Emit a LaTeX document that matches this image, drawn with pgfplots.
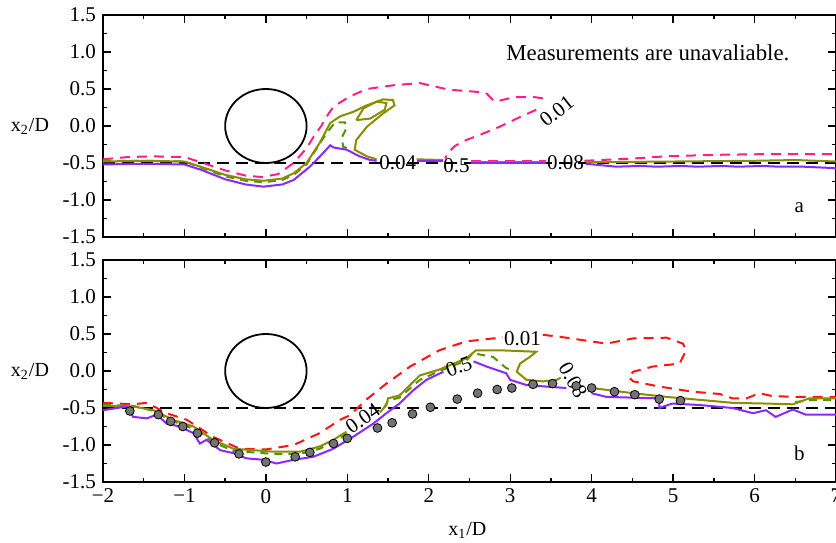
\documentclass[border=0pt]{standalone}
\usepackage{fontspec}
\setmainfont{Liberation Serif}
\usepackage{pgfplots}
\pgfplotsset{compat=1.18}
\newcommand\fs{\fontsize{10.5}{12.6}\selectfont}
\newcommand\fb{\fontsize{11.4}{13.6}\selectfont}
\definecolor{pinkc}{RGB}{255,30,140}
\definecolor{redc}{RGB}{255,20,20}
\definecolor{olivec}{RGB}{140,140,0}
\definecolor{greenc}{RGB}{80,150,0}
\definecolor{purplec}{RGB}{140,40,255}
\definecolor{markgray}{RGB}{115,115,115}
\tikzset{lab/.style={font=\fs, inner sep=0pt}}
\pgfplotsset{myax/.style={scale only axis, width=366.5pt, height=111pt,
  xmin=-2, xmax=7, ymin=-1.5, ymax=1.5,
  axis line style={line width=1pt},
  tick align=inside, major tick length=4pt, minor tick length=2pt,
  every tick/.style={black, line width=0.7pt},
  xtick={-2,-1,0,1,2,3,4,5,6,7}, minor x tick num=1,
  ytick={-1.5,-1,-0.5,0,0.5,1,1.5},
  yticklabels={-1.5,-1.0,-0.5,0.0,0.5,1.0,1.5}, minor y tick num=1,
  tick label style={font=\fs}, label style={font=\fs},
  every axis y label/.style={at={(axis description cs:-0.0996,0.5)},anchor=center},
  ylabel={x\textsubscript{2}/D}},
  pk/.style={pinkc, line width=1pt, dash pattern=on 5pt off 3.5pt},
  rd/.style={redc, line width=1pt, dash pattern=on 5pt off 3.5pt},
  ol/.style={olivec, line width=1pt},
  gd/.style={greenc, line width=1pt, dash pattern=on 4pt off 3pt},
  pu/.style={purplec, line width=1pt},
  bd/.style={black, line width=1pt, dash pattern=on 6pt off 3.5pt}
}
\begin{document}
\begin{tikzpicture}
\begin{axis}[myax, name=A, at={(0,122.5pt)}, anchor=south west, xticklabels={}]
% black dashed reference line
\addplot[bd] coordinates {(-2,-0.5) (7,-0.5)};
% 0.01 contour
\addplot[pk] coordinates {(-2,-0.45) (-1.7,-0.42) (-1.4,-0.41) (-1.0,-0.42) (-0.8,-0.49) (-0.5,-0.6) (-0.25,-0.67) (-0.05,-0.69) (0.15,-0.65) (0.34,-0.5) (0.5,-0.3) (0.6,-0.12) (0.68,0.0) (0.76,0.15) (0.83,0.26) (1.03,0.40) (1.24,0.5) (1.56,0.55) (1.89,0.58) (2.05,0.54) (2.25,0.49) (2.5,0.47) (2.7,0.45) (2.78,0.36) (2.82,0.33) (3.05,0.39) (3.3,0.39) (3.48,0.36)};
\addplot[pk] coordinates {(3.32,0.22) (3.1,0.11) (2.87,-0.01) (2.65,-0.11) (2.46,-0.19) (2.32,-0.27) (2.24,-0.36) (2.2,-0.44)};
\addplot[pk] coordinates {(2.52,-0.47) (3.0,-0.47) (3.44,-0.47)};
\addplot[pk] coordinates {(3.91,-0.47) (4.5,-0.44) (4.91,-0.41) (5.5,-0.39) (6.14,-0.38) (7,-0.38)};
% 0.04 contour
\addplot[gd] coordinates {(-2,-0.47) (-1.5,-0.47) (-1.0,-0.48) (-0.8,-0.56) (-0.5,-0.68) (-0.25,-0.74) (-0.03,-0.76) (0.2,-0.73) (0.34,-0.66) (0.5,-0.52) (0.66,-0.24) (0.75,-0.09) (0.85,0.05) (0.97,0.05) (0.99,-0.03) (0.93,-0.16) (0.95,-0.28) (1.0,-0.30)};
% 0.5 contour
\addplot[ol] coordinates {(-2,-0.48) (-1.5,-0.47) (-1.0,-0.48) (-0.8,-0.55) (-0.5,-0.66) (-0.25,-0.72) (-0.03,-0.74) (0.2,-0.71) (0.34,-0.64) (0.5,-0.5) (0.6,-0.33) (0.66,-0.23) (0.79,0.04) (0.91,0.13) (1.07,0.19) (1.24,0.28) (1.44,0.36) (1.56,0.35) (1.58,0.28) (1.44,0.17) (1.24,-0.01) (1.11,-0.19) (1.09,-0.32) (1.24,-0.41) (1.36,-0.45)};
\addplot[ol] coordinates {(1.11,0.08) (1.2,0.24) (1.36,0.33) (1.48,0.31) (1.46,0.22) (1.28,0.1) (1.11,0.08)};
\addplot[ol] coordinates {(1.85,-0.45) (2.18,-0.46)};
\addplot[ol] coordinates {(2.52,-0.49) (3.44,-0.49)};
\addplot[ol] coordinates {(3.93,-0.49) (5,-0.48) (6,-0.47) (6.5,-0.46) (7,-0.48)};
% 0.08 contour
\addplot[pu] coordinates {(-2,-0.52) (-1.5,-0.51) (-1.0,-0.52) (-0.8,-0.59) (-0.5,-0.72) (-0.25,-0.79) (-0.03,-0.82) (0.2,-0.79) (0.34,-0.73) (0.54,-0.55) (0.7,-0.37) (0.79,-0.26) (0.83,-0.29) (0.99,-0.32) (1.15,-0.41) (1.28,-0.46) (1.36,-0.47)};
\addplot[pu] coordinates {(1.85,-0.47) (2.18,-0.47)};
\addplot[pu] coordinates {(2.52,-0.5) (3.44,-0.5)};
\addplot[pu] coordinates {(3.93,-0.51) (4.3,-0.55) (4.6,-0.54) (4.8,-0.55) (5.1,-0.54) (5.3,-0.55) (5.6,-0.54) (5.8,-0.55) (6.1,-0.54) (6.3,-0.55) (6.6,-0.55) (7,-0.57)};
% cylinder
\draw[line width=0.9pt] (axis cs:0,0) ellipse [x radius=0.5, y radius=0.5];
% labels
\node[lab] at (axis cs:1.62,-0.5) {0.04};
\node[lab] at (axis cs:2.34,-0.53) {0.5};
\node[lab] at (axis cs:3.68,-0.5) {0.08};
\node[lab, rotate=38] at (axis cs:3.57,0.2) {0.01};
\node[lab, font=\fb] at (axis cs:4.69,0.99) {Measurements are unavaliable.};
\node[lab] at (axis cs:6.55,-1.11) {a};
\end{axis}

\begin{axis}[myax, name=B, at={(0,0)}, anchor=south west,
  xticklabels={−2,−1,0,1,2,3,4,5,6,7},
  xlabel={x\textsubscript{1}/D},
  every axis x label/.style={at={(axis description cs:0.497,-0.216)},anchor=center}]
\addplot[bd] coordinates {(-2,-0.5) (7,-0.5)};
% 0.01 contour
\addplot[rd] coordinates {(-2,-0.43) (-1.63,-0.45) (-1.46,-0.43) (-1.22,-0.57) (-0.97,-0.66) (-0.65,-0.89) (-0.32,-1.05) (0.0,-1.06) (0.34,-1.0) (0.66,-0.84) (0.91,-0.66) (1.03,-0.6) (1.23,-0.39) (1.48,-0.17) (1.77,0.06) (2.13,0.28) (2.46,0.40) (2.79,0.44) (2.91,0.45)};
\addplot[rd] coordinates {(3.40,0.49) (3.69,0.45) (4.18,0.37) (4.51,0.44) (4.92,0.45) (5.12,0.37) (5.16,0.28) (5.08,0.10) (4.75,0.06) (4.51,-0.01) (4.45,-0.08) (4.51,-0.14) (4.83,-0.21) (5.24,-0.28) (5.57,-0.31) (5.73,-0.37) (5.90,-0.37) (6.06,-0.30) (6.22,-0.34) (6.55,-0.35) (7,-0.35)};
% 0.04 contour
\addplot[gd] coordinates {(-2,-0.46) (-1.63,-0.47) (-1.38,-0.54) (-1.14,-0.68) (-0.89,-0.78) (-0.65,-0.96) (-0.4,-1.08) (-0.16,-1.1) (0.09,-1.12) (0.42,-1.12) (0.66,-1.05) (0.83,-0.96) (0.99,-0.85)};
\addplot[gd] coordinates {(1.45,-0.5) (1.5,-0.4) (1.64,-0.36) (1.89,-0.12) (2.13,0.0) (2.46,0.14) (2.54,0.24) (2.79,0.19) (2.95,0.04) (3.03,0.01)};
\addplot[gd] coordinates {(6.5,-0.42) (6.7,-0.39) (7,-0.39)};
% 0.5 contour
\addplot[ol] coordinates {(-2,-0.47) (-1.63,-0.48) (-1.38,-0.53) (-1.14,-0.66) (-0.89,-0.75) (-0.65,-0.93) (-0.4,-1.05) (-0.16,-1.07) (0.09,-1.09) (0.42,-1.09) (0.66,-1.02) (0.83,-0.93) (0.99,-0.82)};
\addplot[ol] coordinates {(1.40,-0.56) (1.48,-0.46) (1.5,-0.37) (1.64,-0.33) (1.77,-0.19) (1.89,-0.06) (2.13,0.02) (2.46,0.17) (2.58,0.28) (2.87,0.28) (3.32,0.26) (3.24,0.19) (3.12,0.10) (3.08,-0.01) (3.20,-0.12) (3.40,-0.14) (3.57,-0.12) (3.62,-0.09)};
\addplot[ol] coordinates {(4.0,-0.23) (4.51,-0.30) (4.92,-0.35) (5.33,-0.39) (5.73,-0.43) (6.14,-0.44) (6.47,-0.45) (6.67,-0.37) (7,-0.37)};
% 0.08 contour
\addplot[pu] coordinates {(-2,-0.53) (-1.71,-0.48) (-1.63,-0.62) (-1.46,-0.64) (-1.34,-0.59) (-1.22,-0.71) (-1.06,-0.75) (-0.89,-0.84) (-0.81,-0.98) (-0.73,-0.93) (-0.56,-1.07) (-0.40,-1.11) (-0.24,-1.18) (-0.03,-1.20) (0.13,-1.25) (0.34,-1.20) (0.58,-1.16) (0.83,-1.05) (1.07,-0.89) (1.32,-0.71) (1.48,-0.57) (1.64,-0.44) (1.81,-0.26) (1.97,-0.12) (2.18,-0.01)};
\addplot[pu] coordinates {(2.55,0.13) (2.71,0.06) (2.95,-0.03) (3.0,-0.12) (3.20,-0.19) (3.44,-0.21) (3.69,-0.23)};
\addplot[pu] coordinates {(4.0,-0.30) (4.18,-0.35) (4.5,-0.36) (4.83,-0.37) (4.83,-0.50) (4.99,-0.44) (5.33,-0.46) (5.73,-0.50) (5.98,-0.57) (6.14,-0.53) (6.26,-0.62) (6.47,-0.52) (6.63,-0.59) (7,-0.59)};
% measurements
\addplot[only marks, mark=*, mark size=2.2pt, mark options={fill=markgray, draw=black, line width=0.4pt}] coordinates {(-1.67,-0.54) (-1.32,-0.59) (-1.17,-0.68) (-1.02,-0.75) (-0.84,-0.84) (-0.63,-0.97) (-0.33,-1.12) (0.0,-1.23) (0.36,-1.16) (0.54,-1.10) (0.83,-0.98) (1.0,-0.91) (1.37,-0.77) (1.55,-0.70) (1.80,-0.58) (2.02,-0.49) (2.35,-0.38) (2.60,-0.30) (2.84,-0.25) (3.02,-0.23) (3.28,-0.18) (3.52,-0.17) (3.81,-0.20) (4.0,-0.23) (4.28,-0.28) (4.53,-0.32) (4.83,-0.38) (5.09,-0.40)};
\draw[line width=0.9pt] (axis cs:0,0) ellipse [x radius=0.5, y radius=0.5];
\node[lab, rotate=35] at (axis cs:1.19,-0.64) {0.04};
\node[lab, rotate=20] at (axis cs:2.37,0.06) {0.5};
\node[lab] at (axis cs:3.15,0.44) {0.01};
\node[lab, rotate=-60] at (axis cs:3.77,-0.12) {0.08};
\node[lab] at (axis cs:6.55,-1.11) {b};
\end{axis}
\pgfresetboundingbox
\path (-51.5pt,-30pt) rectangle (366.5pt,241pt);
\end{tikzpicture}
\end{document}
